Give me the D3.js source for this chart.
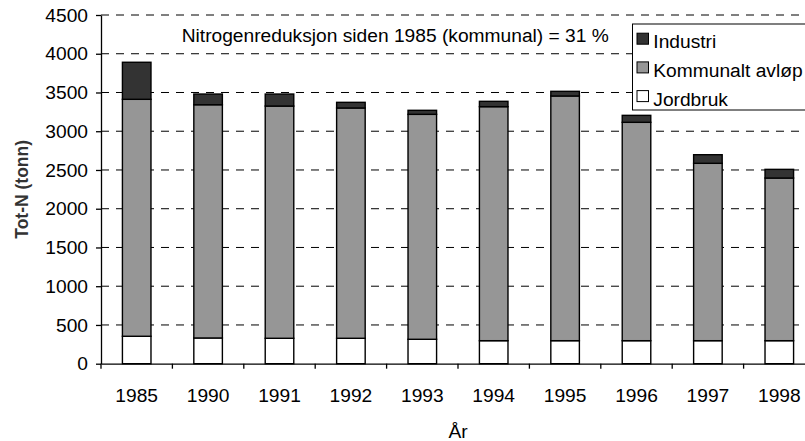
<!DOCTYPE html>
<html><head><meta charset="utf-8">
<script src="https://cdn.jsdelivr.net/npm/d3@7"></script>
<style>
html,body{margin:0;padding:0;background:#fff;overflow:hidden;}
svg{display:block;font-family:"Liberation Sans",Arial,sans-serif;}
</style></head>
<body><svg id="c" width="805" height="441"></svg>
<script>
const years = ["1985","1990","1991","1992","1993","1994","1995","1996","1997","1998"];
const jordbruk = [354, 332, 328, 328, 315, 297, 297, 297, 297, 297];
const kommunal = [3058, 3010, 2997, 2972, 2903, 3020, 3158, 2818, 2289, 2099];
const industri = [478, 138, 155, 73, 52, 69, 60, 90, 111, 112];
const yTicks = [0,500,1000,1500,2000,2500,3000,3500,4000,4500];
const seriesNames = ["Jordbruk","Kommunalt avløp","Industri"];
const colors = {"Jordbruk":"#ffffff","Kommunalt avløp":"#969696","Industri":"#333333"};
const legendOrder = ["Industri","Kommunalt avløp","Jordbruk"];
const note = "Nitrogenreduksjon siden 1985 (kommunal) = 31 %";

const svg = d3.select("#c");
const FS = 19.2;
const x0 = 101, x1 = 815, yBottom = 363.7, yTop = 15;
const x = d3.scaleBand().domain(years).range([x0, x1]).padding(0);
const y = d3.scaleLinear().domain([0, 4500]).range([yBottom, yTop]);

const rows = years.map((yr, i) => ({year: yr, "Jordbruk": jordbruk[i], "Kommunalt avløp": kommunal[i], "Industri": industri[i]}));
const stacked = d3.stack().keys(seriesNames)(rows);

// gridlines
svg.append("g").selectAll("line").data(yTicks.filter(d => d > 0)).join("line")
  .attr("x1", x0).attr("x2", x1).attr("y1", d => y(d)).attr("y2", d => y(d))
  .attr("stroke", "#000").attr("stroke-width", 1).attr("stroke-dasharray", "8,7");

// bars
const bw = x.bandwidth() * 0.4;
svg.append("g").selectAll("g").data(stacked).join("g")
  .attr("fill", d => colors[d.key])
  .selectAll("rect").data(d => d).join("rect")
  .attr("x", d => x(d.data.year) + x.bandwidth()/2 - bw/2)
  .attr("width", bw)
  .attr("y", d => y(d[1]))
  .attr("height", d => y(d[0]) - y(d[1]))
  .attr("stroke", "#000").attr("stroke-width", 1.4);

// y axis
const ya = svg.append("g").attr("transform", `translate(${x0},0)`)
  .call(d3.axisLeft(y).tickValues(yTicks).tickFormat(d3.format("d")).tickSize(5).tickSizeOuter(0).tickPadding(8));
ya.select(".domain").attr("stroke", "#000").attr("stroke-width", 1.3);
ya.selectAll(".tick line").attr("stroke", "#000").attr("stroke-width", 1.3);
ya.selectAll("text").attr("font-size", FS).attr("font-family", "Liberation Sans, Arial, sans-serif").attr("fill", "#000");
svg.append("line").attr("x1", x0).attr("x2", x0).attr("y1", yBottom).attr("y2", yBottom + 5).attr("stroke", "#000").attr("stroke-width", 1.3);

// x axis
const xa = svg.append("g").attr("transform", `translate(0,${yBottom})`)
  .call(d3.axisBottom(x).tickSize(0).tickPadding(25));
xa.select(".domain").attr("stroke", "#000").attr("stroke-width", 1.3);
xa.selectAll("text").attr("font-size", FS).attr("font-family", "Liberation Sans, Arial, sans-serif").attr("fill", "#000");
svg.append("g").selectAll("line").data(years.slice(1).concat(["end"])).join("line")
  .attr("x1", d => d === "end" ? x1 : x(d)).attr("x2", d => d === "end" ? x1 : x(d))
  .attr("y1", yBottom).attr("y2", yBottom + 5)
  .attr("stroke", "#000").attr("stroke-width", 1.3);

// axis titles
svg.append("text").attr("x", (x0 + x1)/2).attr("y", 438).attr("text-anchor", "middle")
  .attr("font-size", FS).attr("fill", "#000").text("År");
svg.append("text").attr("transform", `translate(28,${(yTop + yBottom)/2}) rotate(-90)`)
  .attr("text-anchor", "middle").attr("font-size", 17.5).attr("font-weight", "bold").attr("fill", "#333")
  .text("Tot-N (tonn)");

// annotation
svg.append("text").attr("x", 181.7).attr("y", 41.7).attr("font-size", FS).attr("fill", "#000").text(note);

// legend
const lg = svg.append("g");
lg.append("rect").attr("x", 632.5).attr("y", 24).attr("width", 185).attr("height", 86)
  .attr("fill", "#fff").attr("stroke", "#000").attr("stroke-width", 1);
legendOrder.forEach((k, i) => {
  const cy = 38.7 + i * 28.7;
  lg.append("rect").attr("x", 637).attr("y", cy - 5.5).attr("width", 11.5).attr("height", 11)
    .attr("fill", colors[k]).attr("stroke", "#000").attr("stroke-width", 1);
  lg.append("text").attr("x", 653.3).attr("y", cy + 9.5).attr("font-size", FS).attr("fill", "#000").text(k);
});
</script></body></html>
